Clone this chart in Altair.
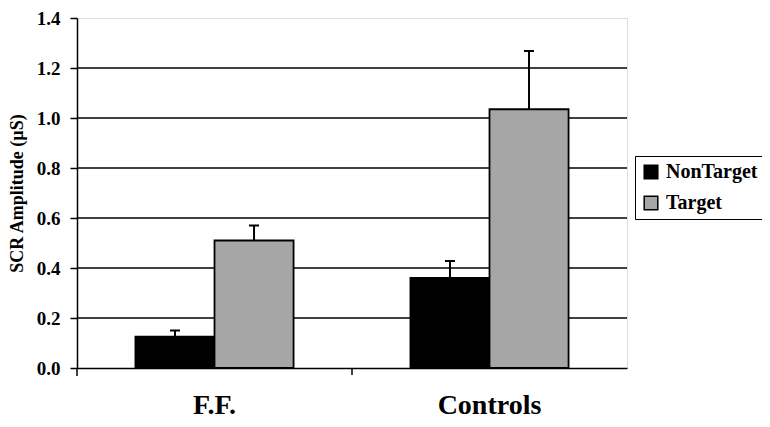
import altair as alt
import pandas as pd

groups = ["F.F.", "F.F.", "Controls", "Controls"]
conditions = ["NonTarget", "Target", "NonTarget", "Target"]
means = [0.125, 0.51, 0.36, 1.035]
errors = [0.025, 0.06, 0.068, 0.233]
grid_values = [0.2, 0.4, 0.6, 0.8, 1.0, 1.2]
y_ticks = [0.0, 0.2, 0.4, 0.6, 0.8, 1.0, 1.2, 1.4]

df = pd.DataFrame({"group": groups, "cond": conditions, "mean": means, "err": errors})
df["upper"] = df["mean"] + df["err"]
grid_df = pd.DataFrame({"v": grid_values})
one = pd.DataFrame({"k": [0]})

FONT = "'Liberation Serif', 'Times New Roman', 'DejaVu Serif', serif"
W, H = 550, 350

x_enc = alt.X("group:N", sort=["F.F.", "Controls"], title=None,
              scale=alt.Scale(paddingInner=0.425, paddingOuter=0.2125),
              axis=alt.Axis(labelAngle=0, labelFont=FONT, labelFontSize=28, labelFontWeight="bold",
                            labelColor="black", domainColor="black", domainWidth=1.5,
                            ticks=False, labelBaseline="alphabetic", labelPadding=45, grid=False))
xo_enc = alt.XOffset("cond:N", sort=["NonTarget", "Target"], scale=alt.Scale(paddingInner=0, paddingOuter=0))
y_scale = alt.Scale(domain=[0, 1.4], nice=False)

grid = alt.Chart(grid_df).mark_rule(color="black", strokeWidth=1.5).encode(
    y=alt.Y("v:Q", scale=y_scale)
)

bars = alt.Chart(df).mark_bar(stroke="black", strokeWidth=1.8).encode(
    x=x_enc,
    xOffset=xo_enc,
    y=alt.Y("mean:Q", scale=y_scale, title="SCR Amplitude (µS)",
            axis=alt.Axis(values=y_ticks, format=".1f", labelFont=FONT, labelFontSize=19,
                          labelFontWeight="bold", labelColor="black", titleFont=FONT,
                          titleFontSize=18, titleFontWeight="bold", titleColor="black",
                          domainColor="black", domainWidth=1.5, tickColor="black", tickWidth=1.5,
                          tickSize=7, labelPadding=10, titlePadding=10, grid=False)),
    fill=alt.Fill("cond:N", sort=["NonTarget", "Target"],
                  scale=alt.Scale(domain=["NonTarget", "Target"], range=["#000000", "#a6a6a6"]),
                  legend=alt.Legend(title=None, orient="none", legendX=558, legendY=138,
                                    symbolType="square", symbolSize=185, symbolStrokeColor="black",
                                    symbolStrokeWidth=1.5, labelFont=FONT, labelFontSize=20,
                                    labelFontWeight="bold", labelColor="black",
                                    strokeColor="black", padding=6, rowPadding=11,
                                    labelOffset=5, symbolOpacity=1)),
)

err_rule = alt.Chart(df).mark_rule(color="black", strokeWidth=2).encode(
    x=x_enc, xOffset=xo_enc, y=alt.Y("mean:Q", scale=y_scale), y2="upper:Q"
)
err_cap = alt.Chart(df).mark_tick(color="black", thickness=2, size=10, opacity=1).encode(
    x=x_enc, xOffset=xo_enc, y=alt.Y("upper:Q", scale=y_scale)
)

mid_tick = alt.Chart(one).mark_rule(color="black", strokeWidth=1.5).encode(
    x=alt.value(W / 2), y=alt.value(H), y2=alt.value(H + 7)
)
left_ext = alt.Chart(one).mark_rule(color="black", strokeWidth=1.5).encode(
    x=alt.value(0), y=alt.value(H), y2=alt.value(H + 8)
)

chart = alt.layer(grid, bars, err_rule, err_cap, mid_tick, left_ext).properties(
    width=W, height=H,
    autosize=alt.AutoSizeParams(type="none"),
    padding={"left": 69, "top": 10, "right": 135, "bottom": 51},
).configure_view(stroke="#999999", strokeWidth=1.5).configure(background="white")

chart.save("out.html", embed_options={"renderer": "svg", "actions": False})
